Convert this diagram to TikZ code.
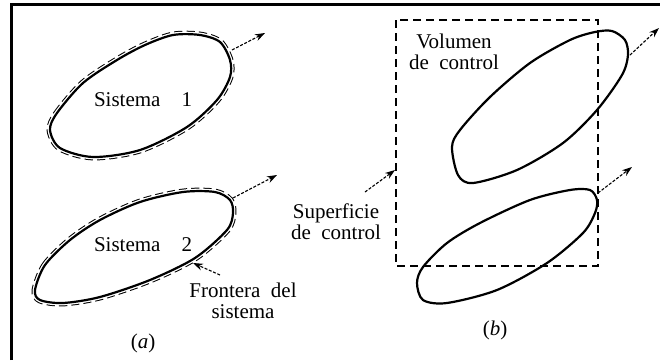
\documentclass[tikz,border=0pt]{standalone}
\usepackage{fontspec}
\setmainfont{Liberation Serif}
\usetikzlibrary{arrows.meta}
\begin{document}
\begin{tikzpicture}[x=0.5pt,y=-0.5pt,
  >={Stealth[length=5pt,width=3.5pt]},
  txt/.style={font=\fontsize{10.5}{10.5}\selectfont,align=center,inner sep=0pt},
  flecha/.style={arrows=->,dash pattern=on 1.5pt off 0.8pt,line width=0.55pt},
  contorno/.style={line width=1.1pt},
  rayado/.style={line width=3.4pt,dash pattern=on 4pt off 2pt},
  tapa/.style={line width=2.4pt,white},
  sisuno/.style={insert path={plot[smooth cycle] coordinates {(50,130) (57,113) (83,83) (117,60) (145,45) (173,35) (200,35) (220,42) (230,60) (230,77) (217,100) (187,127) (140,150) (93,157) (60,148)}}},
  sisdos/.style={insert path={plot[smooth cycle] coordinates {(35,290) (45,265) (70,240) (100,220) (140,202) (183,192) (215,192) (230,200) (233,213) (227,230) (195,258) (150,280) (100,297) (63,303) (40,300)}}}]
\useasboundingbox (0,0) rectangle (660,360);
\draw[line width=1.5pt] (11,360) -- (11,4) -- (660,4);

% (a)
\foreach \s in {sisuno,sisdos} {
  \path[draw,rayado,\s];
  \path[draw,tapa,\s];
  \path[fill=white,\s];
  \path[draw,contorno,\s];
}
\node[txt] (sis1) at (143,100) {Sistema\quad 1};
\node[txt] (sis2) at (143,245) {Sistema\quad 2};
\node[txt] (front) at (243,301) {Frontera\enspace del\\sistema};
\node[txt] (capa) at (143,343) {(\textit{a})};
\coordinate (s1) at (232,50);  \coordinate (e1) at (265,33);
\coordinate (s2) at (233,198); \coordinate (e2) at (277,175);
\coordinate (sf) at (220,275); \coordinate (ef) at (193,263);
\draw[flecha] (s1) -- (e1);
\draw[flecha] (s2) -- (e2);
\draw[flecha] (sf) -- (ef);

% (b)
\draw[contorno] plot[smooth cycle] coordinates {(452,147) (460,130) (490,97) (530,63) (570,40) (595,32) (612,31) (625,40) (628,55) (622,75) (597,110) (563,143) (517,170) (473,183) (458,175)};
\draw[contorno] plot[smooth cycle] coordinates {(417,283) (423,267) (447,243) (480,223) (530,200) (570,190) (590,190) (597,200) (595,213) (583,233) (547,263) (497,290) (447,303) (423,300)};
\draw[line width=0.6pt,dash pattern=on 4pt off 2.5pt] (396,20) rectangle (598,266);
\node[txt] (vol) at (454,52) {Volumen\\de\enspace control};
\node[txt] (sup) at (336,222) {Superficie\\de\enspace control};
\node[txt] (capb) at (495,330) {(\textit{b})};
\coordinate (s3) at (630,55);  \coordinate (e3) at (659,28);
\coordinate (s4) at (598,193); \coordinate (e4) at (632,167);
\coordinate (ss) at (365,192); \coordinate (es) at (395,170);
\draw[flecha] (s3) -- (e3);
\draw[flecha] (s4) -- (e4);
\draw[flecha] (ss) -- (es);
\end{tikzpicture}
\end{document}
